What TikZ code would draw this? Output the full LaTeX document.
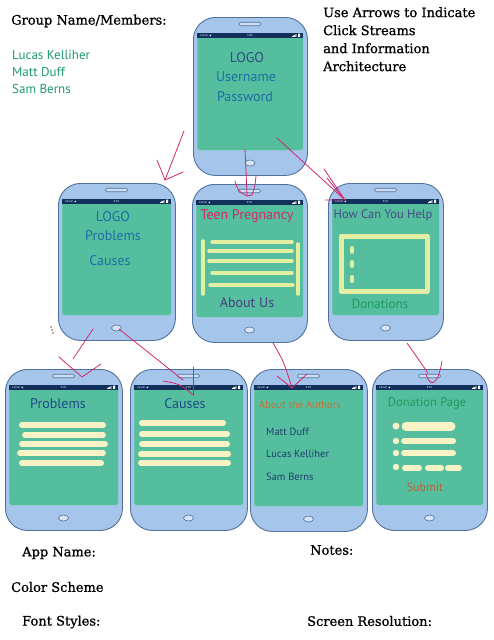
\documentclass[tikz,border=0pt]{standalone}
\usepackage{fontspec}
\setmainfont{DejaVu Serif}[FakeBold=0.9]
\newfontfamily\scr{PT Sans}
\usetikzlibrary{shapes.geometric}
\definecolor{bodyc}{HTML}{A6C5EA}
\definecolor{edgec}{HTML}{50709E}
\definecolor{scrc}{HTML}{55BE9E}
\definecolor{barc}{HTML}{12305C}
\definecolor{creamc}{HTML}{F8F2C4}
\definecolor{palec}{HTML}{E2EEA2}
\definecolor{arrc}{HTML}{D4286E}
\definecolor{tealblue}{HTML}{1F6EA3}
\definecolor{navyt}{HTML}{2D4F7C}
\definecolor{crimson}{HTML}{D22A66}
\definecolor{purpt}{HTML}{4A3F80}
\definecolor{helpc}{HTML}{4A4A88}
\definecolor{greent}{HTML}{1E9A5E}
\definecolor{darkblue}{HTML}{1E4C86}
\definecolor{orangec}{HTML}{C87034}
\definecolor{namesc}{HTML}{1E3F6E}
\definecolor{submitc}{HTML}{B8643A}
\definecolor{memberc}{HTML}{1E9A72}
\tikzset{
  pics/phone/.style n args={2}{code={
    \node[draw=edgec, fill=bodyc, line width=0.9pt, rounded corners=22pt,
          minimum width=#1pt, minimum height=#2pt, inner sep=0, anchor=north west] (-body) at (0,0) {};
    \node[fill=scrc, draw=scrc!70!white, line width=0.4pt, rounded corners=2.5pt,
          minimum width={#1pt-8pt}, minimum height={#2pt-41pt}, inner sep=0, anchor=north west] (-screen) at (4,16) {};
    \node[fill=barc, minimum width={#1pt-8pt}, minimum height=5pt, inner sep=0, anchor=north west] (-bar) at (4,16) {};
    \node[font=\scr\fontsize{2.8}{3}\selectfont, text=white, inner sep=0, anchor=west] (-car) at (7,18.5) {Carrier};
    \fill[white] (-car.east) ++(1,-0.6) -- ++(2,0) -- ++(-1,1.4) -- cycle;
    \node[font=\scr\fontsize{2.8}{3}\selectfont, text=white, inner sep=0] (-time) at (#1/2,18.5) {9:45};
    \fill[white] (#1-15,19.8) rectangle ++(0.8,-0.8) (#1-13.8,19.8) rectangle ++(0.8,-1.4)
                 (#1-12.6,19.8) rectangle ++(0.8,-2) (#1-11.4,19.8) rectangle ++(0.8,-2.6)
                 (#1-9,19.9) rectangle ++(2,-3.2);
    \node[draw=edgec, fill=bodyc!55!white, line width=0.6pt, rounded corners=1.5pt,
          minimum width=22pt, minimum height=3.5pt, inner sep=0] (-spk) at (#1/2,7) {};
    \node[draw=edgec, fill=bodyc!45!white, line width=0.6pt, ellipse,
          minimum width=10pt, minimum height=6pt, inner sep=0] (-home) at (#1/2,#2-12) {};
  }},
  hdr/.style={font=\fontsize{13}{18}\selectfont, inner sep=0, anchor=west},
  st/.style={font=\scr\fontsize{#1}{#1}\selectfont, inner sep=0},
  cream/.style={draw=creamc, line width=6pt, line cap=round},
  pale/.style={draw=palec, line width=3.5pt, line cap=round},
  arr/.style={draw=arrc, line width=0.8pt, line cap=round, line join=round},
}
\begin{document}
\begin{tikzpicture}[x=1pt,y=-1pt]
\useasboundingbox (0,0) rectangle (494,640);
\fill[white] (0,0) rectangle (494,640);

% header texts
\node[hdr] (grp) at (11,21) {Group Name/Members:};
\node[st=13, anchor=west, text=memberc] (m1) at (12,55) {Lucas Kelliher};
\node[st=13, anchor=west, text=memberc] (m2) at (12,72) {Matt Duff};
\node[st=13, anchor=west, text=memberc] (m3) at (12,89) {Sam Berns};
\node[font=\fontsize{13}{18}\selectfont, inner sep=0, anchor=north west, align=left] (use) at (323,7)
  {Use Arrows to Indicate\\Click Streams\\and Information\\Architecture};

% phones
\pic (t)  at (193,17)  {phone={114}{158}};
\pic (ml) at (58,183)  {phone={117}{157}};
\pic (mc) at (192,184) {phone={115}{158}};
\pic (mr) at (328,183) {phone={115}{157}};
\pic (b1) at (5,369)   {phone={117}{161}};
\pic (b2) at (130,369) {phone={117}{161}};
\pic (b3) at (250,369) {phone={117}{162}};
\pic (b4) at (372,369) {phone={115}{161}};

% top phone
\node[st=14, text=navyt] (tlogo) at (247,58) {LOGO};
\node[st=14, text=tealblue] (tuser) at (246,77) {Username};
\node[st=14, text=tealblue] (tpass) at (245,97) {Password};

% middle left
\node[st=14, text=tealblue] (mllogo) at (113,217) {LOGO};
\node[st=14, text=tealblue] (mlprob) at (113,236) {Problems};
\node[st=14, text=tealblue] (mlcaus) at (110,261) {Causes};

% middle centre
\node[st=14, text=crimson] (mctitle) at (247,216) {Teen Pregnancy};
\draw[pale] (212,242) -- (292,242);
\draw[pale] (209,251) -- (292,251);
\draw[pale] (209,261) -- (292,261);
\draw[pale] (212,273) -- (292,273);
\draw[pale] (210,285) -- (293,285);
\draw[pale] (203,241) -- (203,294);
\draw[pale] (298,244) -- (298,294);
\node[st=14, text=purpt] (mcabout) at (247,303) {About Us};

% middle right
\node[st=12.5, text=helpc] (mrtitle) at (383,215) {How Can You Help};
\draw[draw=palec, line width=5pt, line join=round] (341,236) rectangle (427,291);
\draw[draw=palec, line width=4pt, line cap=round] (352,248) -- (352,252) (352,262) -- (352,266) (352,277) -- (352,281);
\node[st=13, text=greent] (mrdon) at (380,304) {Donations};

% bottom 1
\node[st=14, text=darkblue] (b1title) at (58,404) {Problems};
\draw[cream] (22,425) -- (103,425);
\draw[cream] (25,435) -- (103,435);
\draw[cream] (22,444) -- (105,444);
\draw[cream] (20,453) -- (103,453);
\draw[cream] (22,463) -- (101,463);

% bottom 2
\node[st=14, text=darkblue] (b2title) at (185,404) {Causes};
\draw[cream] (142,423) -- (223,423);
\draw[cream] (142,434) -- (227,434);
\draw[cream] (142,444) -- (227,444);
\draw[cream] (141,454) -- (228,454);
\draw[cream] (141,463) -- (228,463);

% bottom 3
\node[st=10.5, text=orangec] (b3title) at (300,405) {About the Authors};
\node[st=10.5, text=namesc, anchor=west] (b3n1) at (266,432) {Matt Duff};
\node[st=10.5, text=namesc, anchor=west] (b3n2) at (266,454) {Lucas Kelliher};
\node[st=10.5, text=namesc, anchor=west] (b3n3) at (266,477) {Sam Berns};

% bottom 4
\node[st=12.5, text=greent] (b4title) at (427,403) {Donation Page};
\fill[creamc] (396,426) circle (3.5) (396,441) circle (3.2) (396,453) circle (3.2) (396,467) circle (3.2);
\draw[draw=creamc, line width=9pt, line cap=round] (406,426) -- (451,426);
\draw[cream] (404,441) -- (453,441);
\draw[cream] (404,453) -- (453,453);
\draw[cream] (405,468) -- (419,468) (428,468) -- (441,468) (448,468) -- (459,468);
\node[st=12, text=submitc] (b4sub) at (425,487) {Submit};

% little dotted mark
\fill[brown!70!black] (51,327) circle (0.8) (52,330) circle (0.8) (53,333) circle (0.8);

% arrows (hand drawn)
\coordinate (a1s) at (184,131); \coordinate (a1e) at (165,180);
\draw[arr] (a1s) -- (a1e);
\draw[arr] (157,160) -- (a1e) -- (183,172);

\coordinate (a2s) at (245,149); \coordinate (a2e) at (247,196);
\draw[arr] (a2s) .. controls (246,170) .. (a2e);
\draw[arr] (235,181) .. controls (238,191) .. (a2e) -- (252,195) .. controls (255,186) .. (256,176);

\coordinate (a3s) at (277,138); \coordinate (a3e) at (345,200);
\draw[arr] (a3s) -- (a3e);
\draw[arr] (324,169) -- (a3e) -- (325,200);
\draw[arr] (327,178) -- (343,198);

\coordinate (a4s) at (93,329); \coordinate (a4e) at (73,359);
\draw[arr] (a4s) -- (a4e);
\draw[arr] (59,357) -- (82,377) -- (101,364);

\coordinate (a5s) at (119,329); \coordinate (a5e) at (183,380);
\draw[arr] (a5s) -- (a5e);
\draw[arr] (163,381) .. controls (180,384) .. (193,395);
\draw[arr] (193,367) -- (193,395);

\coordinate (a6s) at (273,343); \coordinate (a6e) at (292,388);
\draw[arr] (a6s) .. controls (284,362) .. (a6e);
\draw[arr] (277,376) -- (a6e) -- (307,374);

\coordinate (a7s) at (407,343); \coordinate (a7e) at (428,373);
\draw[arr] (a7s) -- (a7e);
\draw[arr] (426,374) .. controls (430,388) and (438,386) .. (442,361);

% bottom texts
\node[hdr] (app) at (22,553) {App Name:};
\node[hdr] (notes) at (310,550) {Notes:};
\node[hdr] (color) at (11,587) {Color Scheme};
\node[hdr] (fonts) at (22,622) {Font Styles:};
\node[hdr] (res) at (307,621) {Screen Resolution:};
\end{tikzpicture}
\end{document}
